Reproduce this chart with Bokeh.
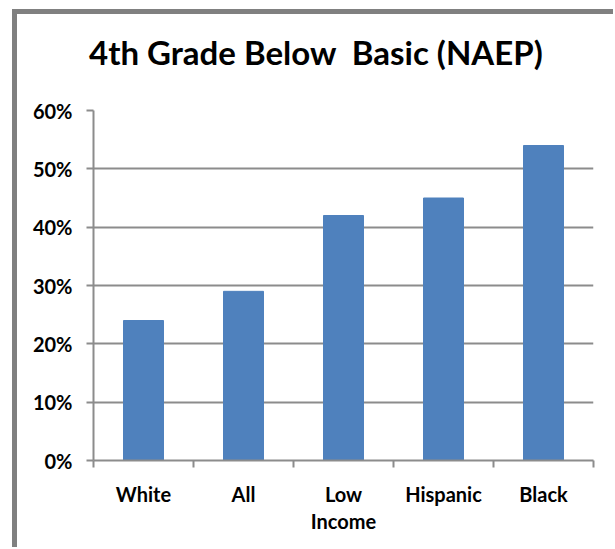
from bokeh.plotting import figure
from bokeh.models import FixedTicker, NumeralTickFormatter, Range1d, Div
from bokeh.layouts import column
from bokeh.embed import file_html
from bokeh.resources import INLINE

categories = ["White", "All", "Low\nIncome", "Hispanic", "Black"]
values = [0.24, 0.29, 0.42, 0.45, 0.54]
y_ticks = [0.0, 0.1, 0.2, 0.3, 0.4, 0.5, 0.6]
title_text = "4th Grade Below\u00a0 Basic (NAEP)"

FONT = "Lato"
GRID = "#8c8c8c"

W = 596
TITLE_H = 81
H = 533 - TITLE_H
BL, BR, BT, BB = 76, 20, 15, 87
n = len(categories)
ymax = 0.6

xs = [i + 0.5 for i in range(n)]

title_div = Div(
    text=('<div style="padding:22px 0 0 72px; font-family:Lato; font-weight:bold; '
          'font-size:33px; line-height:33px; color:black; white-space:nowrap;">'
          + title_text + '</div>'),
    width=W, height=TITLE_H, margin=0)

p = figure(width=W, height=H, output_backend="svg", toolbar_location=None,
           x_range=Range1d(0, n), y_range=Range1d(0, ymax),
           min_border_left=BL, min_border_right=BR, min_border_top=BT, min_border_bottom=BB)
p.outline_line_color = None
p.background_fill_color = "white"
p.border_fill_color = "white"

p.vbar(x=xs, top=values, width=0.4, color="#4F81BD")

# y axis
p.yaxis.ticker = FixedTicker(ticks=y_ticks)
p.yaxis.formatter = NumeralTickFormatter(format="0%")
p.yaxis.axis_line_color = GRID
p.yaxis.axis_line_width = 2
p.yaxis.major_tick_line_color = GRID
p.yaxis.major_tick_line_width = 2
p.yaxis.major_tick_out = 7
p.yaxis.major_tick_in = 0
p.yaxis.minor_tick_line_color = None
p.yaxis.major_label_text_font = FONT
p.yaxis.major_label_text_font_style = "bold"
p.yaxis.major_label_text_font_size = "20px"
p.yaxis.major_label_text_color = "black"
p.yaxis.major_label_standoff = 14

# x axis
p.xaxis.ticker = FixedTicker(ticks=xs, minor_ticks=list(range(n + 1)))
p.xaxis.major_label_overrides = {x: c for x, c in zip(xs, categories)}
p.xaxis.axis_line_color = GRID
p.xaxis.axis_line_width = 2
p.xaxis.major_tick_line_color = None
p.xaxis.major_tick_out = 0
p.xaxis.major_tick_in = 0
p.xaxis.minor_tick_line_color = GRID
p.xaxis.minor_tick_line_width = 2
p.xaxis.minor_tick_out = 7
p.xaxis.minor_tick_in = 0
p.xaxis.major_label_text_font = FONT
p.xaxis.major_label_text_font_style = "bold"
p.xaxis.major_label_text_font_size = "20px"
p.xaxis.major_label_text_color = "black"
p.xaxis.major_label_text_line_height = 1.15
p.xaxis.major_label_standoff = 14

p.xgrid.grid_line_color = None
p.ygrid.ticker = FixedTicker(ticks=y_ticks)
p.ygrid.grid_line_color = GRID
p.ygrid.grid_line_width = 2

layout = column(title_div, p, spacing=0)
layout.styles = {"border-left": "5px solid #808080", "border-top": "5px solid #808080",
                 "margin-left": "12px", "margin-top": "9px", "background-color": "white"}

open("out.html", "w").write(file_html(layout, INLINE))
